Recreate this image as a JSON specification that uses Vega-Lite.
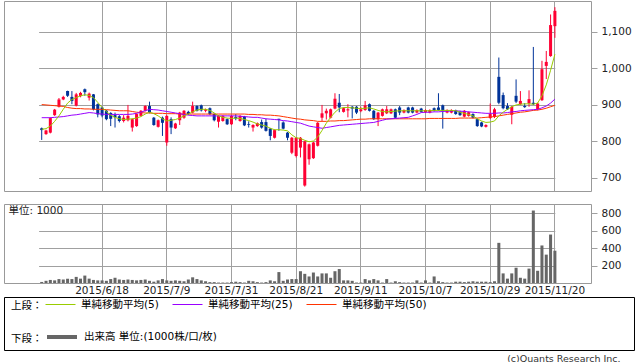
{
  "$schema": "https://vega.github.io/schema/vega-lite/v6.json",
  "padding": {"left": 3, "top": 0, "right": 0, "bottom": 0},
  "autosize": {"type": "pad"},
  "background": "white",
  "title": {"text": "(c)Quants Research Inc.", "orient": "bottom", "anchor": "end", "fontSize": 9.5, "font": "DejaVu Sans", "fontWeight": "normal", "color": "#333333", "offset": 3, "dx": -14},
  "config": {
    "view": {"stroke": "#999999"},
    "axis": {"gridColor": "#a0a0a0", "gridOpacity": 1, "labelFont": "DejaVu Sans", "labelFontSize": 10.5, "labelColor": "#222222", "tickColor": "#a0a0a0", "domain": false}
  },
  "datasets": {
    "days": [
      {"d":"2015/5/29","o":836,"h":838,"l":804,"c":831,"v":12,"m5":833,"m25":865,"m50":901},
      {"d":"2015/6/1","o":820,"h":832,"l":818,"c":830,"v":25,"m5":835,"m25":865,"m50":900},
      {"d":"2015/6/2","o":824,"h":866,"l":822,"c":864,"v":35,"m5":842,"m25":865,"m50":899},
      {"d":"2015/6/3","o":872,"h":889,"l":870,"c":887,"v":30,"m5":855,"m25":866,"m50":898},
      {"d":"2015/6/4","o":895,"h":919,"l":893,"c":915,"v":45,"m5":870,"m25":867,"m50":897},
      {"d":"2015/6/5","o":915,"h":925,"l":913,"c":922,"v":40,"m5":888,"m25":868,"m50":896},
      {"d":"2015/6/8","o":938,"h":939,"l":922,"c":925,"v":50,"m5":905,"m25":870,"m50":893},
      {"d":"2015/6/9","o":922,"h":938,"l":902,"c":911,"v":45,"m5":915,"m25":872,"m50":891},
      {"d":"2015/6/10","o":898,"h":933,"l":896,"c":929,"v":70,"m5":920,"m25":873,"m50":890},
      {"d":"2015/6/11","o":924,"h":936,"l":921,"c":933,"v":50,"m5":925,"m25":875,"m50":890},
      {"d":"2015/6/12","o":943,"h":945,"l":925,"c":935,"v":85,"m5":928,"m25":877,"m50":889},
      {"d":"2015/6/15","o":920,"h":934,"l":912,"c":931,"v":50,"m5":926,"m25":879,"m50":889},
      {"d":"2015/6/16","o":929,"h":930,"l":885,"c":888,"v":35,"m5":920,"m25":878,"m50":888},
      {"d":"2015/6/17","o":902,"h":904,"l":866,"c":874,"v":30,"m5":907,"m25":876,"m50":888},
      {"d":"2015/6/18","o":893,"h":895,"l":866,"c":871,"v":30,"m5":893,"m25":875,"m50":888},
      {"d":"2015/6/19","o":884,"h":886,"l":858,"c":861,"v":25,"m5":882,"m25":874,"m50":887},
      {"d":"2015/6/22","o":878,"h":880,"l":842,"c":862,"v":45,"m5":872,"m25":874,"m50":886},
      {"d":"2015/6/23","o":872,"h":879,"l":838,"c":866,"v":60,"m5":866,"m25":874,"m50":885},
      {"d":"2015/6/24","o":869,"h":872,"l":852,"c":856,"v":40,"m5":862,"m25":874,"m50":884},
      {"d":"2015/6/25","o":856,"h":872,"l":852,"c":865,"v":35,"m5":860,"m25":874,"m50":884},
      {"d":"2015/6/26","o":858,"h":900,"l":855,"c":870,"v":40,"m5":861,"m25":874,"m50":884},
      {"d":"2015/6/29","o":838,"h":863,"l":827,"c":861,"v":35,"m5":862,"m25":875,"m50":882},
      {"d":"2015/6/30","o":842,"h":877,"l":840,"c":875,"v":30,"m5":864,"m25":877,"m50":880},
      {"d":"2015/7/1","o":870,"h":886,"l":868,"c":884,"v":35,"m5":868,"m25":880,"m50":879},
      {"d":"2015/7/2","o":884,"h":899,"l":882,"c":897,"v":40,"m5":875,"m25":884,"m50":878},
      {"d":"2015/7/3","o":897,"h":909,"l":877,"c":879,"v":25,"m5":880,"m25":888,"m50":878},
      {"d":"2015/7/6","o":865,"h":867,"l":843,"c":845,"v":15,"m5":876,"m25":887,"m50":877},
      {"d":"2015/7/7","o":840,"h":860,"l":838,"c":858,"v":30,"m5":870,"m25":886,"m50":877},
      {"d":"2015/7/8","o":865,"h":868,"l":815,"c":851,"v":45,"m5":862,"m25":884,"m50":877},
      {"d":"2015/7/9","o":797,"h":872,"l":788,"c":870,"v":30,"m5":856,"m25":882,"m50":876},
      {"d":"2015/7/10","o":861,"h":866,"l":820,"c":838,"v":25,"m5":858,"m25":880,"m50":876},
      {"d":"2015/7/13","o":836,"h":851,"l":834,"c":849,"v":30,"m5":860,"m25":878,"m50":876},
      {"d":"2015/7/14","o":858,"h":881,"l":845,"c":879,"v":25,"m5":864,"m25":876,"m50":875},
      {"d":"2015/7/15","o":865,"h":886,"l":862,"c":884,"v":20,"m5":870,"m25":874,"m50":875},
      {"d":"2015/7/16","o":881,"h":884,"l":872,"c":875,"v":40,"m5":875,"m25":872,"m50":875},
      {"d":"2015/7/17","o":879,"h":909,"l":877,"c":897,"v":65,"m5":881,"m25":871,"m50":875},
      {"d":"2015/7/21","o":897,"h":899,"l":882,"c":884,"v":45,"m5":886,"m25":870,"m50":875},
      {"d":"2015/7/22","o":899,"h":901,"l":882,"c":885,"v":30,"m5":888,"m25":870,"m50":875},
      {"d":"2015/7/23","o":884,"h":890,"l":880,"c":888,"v":20,"m5":888,"m25":870,"m50":875},
      {"d":"2015/7/24","o":891,"h":893,"l":872,"c":875,"v":10,"m5":885,"m25":870,"m50":875},
      {"d":"2015/7/27","o":875,"h":877,"l":855,"c":858,"v":10,"m5":878,"m25":870,"m50":875},
      {"d":"2015/7/28","o":854,"h":872,"l":838,"c":870,"v":5,"m5":870,"m25":870,"m50":875},
      {"d":"2015/7/29","o":856,"h":872,"l":854,"c":870,"v":5,"m5":866,"m25":870,"m50":875},
      {"d":"2015/7/30","o":861,"h":863,"l":845,"c":847,"v":5,"m5":864,"m25":870,"m50":875},
      {"d":"2015/7/31","o":847,"h":872,"l":845,"c":870,"v":10,"m5":863,"m25":870,"m50":875},
      {"d":"2015/8/3","o":867,"h":875,"l":858,"c":863,"v":15,"m5":864,"m25":870,"m50":875},
      {"d":"2015/8/4","o":856,"h":872,"l":854,"c":870,"v":10,"m5":863,"m25":869,"m50":875},
      {"d":"2015/8/5","o":868,"h":870,"l":842,"c":844,"v":5,"m5":860,"m25":868,"m50":875},
      {"d":"2015/8/6","o":847,"h":855,"l":838,"c":845,"v":25,"m5":857,"m25":867,"m50":874},
      {"d":"2015/8/7","o":838,"h":847,"l":827,"c":845,"v":20,"m5":853,"m25":866,"m50":874},
      {"d":"2015/8/10","o":842,"h":852,"l":840,"c":850,"v":10,"m5":848,"m25":866,"m50":873},
      {"d":"2015/8/11","o":853,"h":860,"l":835,"c":838,"v":5,"m5":845,"m25":864,"m50":873},
      {"d":"2015/8/12","o":853,"h":862,"l":827,"c":829,"v":10,"m5":842,"m25":862,"m50":872},
      {"d":"2015/8/13","o":835,"h":837,"l":803,"c":815,"v":30,"m5":836,"m25":861,"m50":872},
      {"d":"2015/8/14","o":810,"h":833,"l":808,"c":831,"v":20,"m5":832,"m25":860,"m50":871},
      {"d":"2015/8/17","o":862,"h":862,"l":829,"c":859,"v":125,"m5":832,"m25":859,"m50":870},
      {"d":"2015/8/18","o":852,"h":855,"l":833,"c":835,"v":25,"m5":831,"m25":857,"m50":868},
      {"d":"2015/8/19","o":824,"h":826,"l":803,"c":810,"v":40,"m5":829,"m25":856,"m50":866},
      {"d":"2015/8/20","o":769,"h":812,"l":765,"c":810,"v":45,"m5":818,"m25":854,"m50":864},
      {"d":"2015/8/21","o":760,"h":812,"l":756,"c":810,"v":45,"m5":810,"m25":852,"m50":862},
      {"d":"2015/8/24","o":783,"h":812,"l":756,"c":810,"v":135,"m5":808,"m25":850,"m50":861},
      {"d":"2015/8/25","o":679,"h":802,"l":676,"c":800,"v":105,"m5":803,"m25":846,"m50":859},
      {"d":"2015/8/26","o":751,"h":794,"l":736,"c":792,"v":75,"m5":799,"m25":842,"m50":858},
      {"d":"2015/8/27","o":754,"h":799,"l":752,"c":797,"v":120,"m5":801,"m25":840,"m50":857},
      {"d":"2015/8/28","o":788,"h":853,"l":786,"c":851,"v":75,"m5":812,"m25":838,"m50":855},
      {"d":"2015/8/31","o":865,"h":900,"l":856,"c":877,"v":110,"m5":830,"m25":836,"m50":855},
      {"d":"2015/9/1","o":877,"h":890,"l":860,"c":884,"v":110,"m5":850,"m25":838,"m50":855},
      {"d":"2015/9/2","o":865,"h":890,"l":863,"c":888,"v":60,"m5":866,"m25":840,"m50":856},
      {"d":"2015/9/3","o":890,"h":932,"l":888,"c":917,"v":135,"m5":880,"m25":842,"m50":856},
      {"d":"2015/9/4","o":906,"h":930,"l":880,"c":893,"v":160,"m5":890,"m25":844,"m50":857},
      {"d":"2015/9/7","o":881,"h":893,"l":879,"c":891,"v":30,"m5":893,"m25":845,"m50":857},
      {"d":"2015/9/8","o":885,"h":902,"l":866,"c":888,"v":30,"m5":893,"m25":846,"m50":858},
      {"d":"2015/9/9","o":895,"h":897,"l":863,"c":890,"v":25,"m5":892,"m25":847,"m50":859},
      {"d":"2015/9/10","o":895,"h":897,"l":875,"c":879,"v":5,"m5":891,"m25":848,"m50":860},
      {"d":"2015/9/11","o":883,"h":895,"l":880,"c":888,"v":5,"m5":890,"m25":849,"m50":861},
      {"d":"2015/9/14","o":886,"h":911,"l":884,"c":899,"v":45,"m5":891,"m25":850,"m50":861},
      {"d":"2015/9/15","o":902,"h":904,"l":882,"c":884,"v":30,"m5":892,"m25":851,"m50":862},
      {"d":"2015/9/16","o":884,"h":886,"l":859,"c":861,"v":45,"m5":889,"m25":852,"m50":862},
      {"d":"2015/9/17","o":861,"h":881,"l":842,"c":879,"v":30,"m5":885,"m25":855,"m50":862},
      {"d":"2015/9/18","o":870,"h":890,"l":868,"c":888,"v":5,"m5":882,"m25":858,"m50":862},
      {"d":"2015/9/24","o":877,"h":897,"l":875,"c":888,"v":45,"m5":881,"m25":861,"m50":862},
      {"d":"2015/9/25","o":877,"h":890,"l":875,"c":888,"v":5,"m5":882,"m25":862,"m50":862},
      {"d":"2015/9/28","o":888,"h":890,"l":863,"c":865,"v":20,"m5":883,"m25":863,"m50":862},
      {"d":"2015/9/29","o":893,"h":897,"l":872,"c":879,"v":10,"m5":884,"m25":864,"m50":862},
      {"d":"2015/9/30","o":879,"h":888,"l":877,"c":886,"v":5,"m5":884,"m25":865,"m50":862},
      {"d":"2015/10/1","o":893,"h":895,"l":877,"c":879,"v":5,"m5":884,"m25":866,"m50":862},
      {"d":"2015/10/2","o":893,"h":895,"l":877,"c":879,"v":5,"m5":884,"m25":870,"m50":862},
      {"d":"2015/10/5","o":879,"h":888,"l":877,"c":886,"v":30,"m5":884,"m25":874,"m50":862},
      {"d":"2015/10/6","o":890,"h":892,"l":879,"c":881,"v":5,"m5":884,"m25":879,"m50":862},
      {"d":"2015/10/7","o":880,"h":888,"l":878,"c":886,"v":30,"m5":884,"m25":880,"m50":862},
      {"d":"2015/10/8","o":879,"h":888,"l":877,"c":886,"v":5,"m5":884,"m25":880,"m50":863},
      {"d":"2015/10/9","o":891,"h":893,"l":882,"c":884,"v":75,"m5":885,"m25":881,"m50":863},
      {"d":"2015/10/13","o":893,"h":932,"l":884,"c":886,"v":20,"m5":885,"m25":881,"m50":863},
      {"d":"2015/10/14","o":899,"h":901,"l":835,"c":884,"v":10,"m5":885,"m25":882,"m50":863},
      {"d":"2015/10/15","o":879,"h":888,"l":877,"c":886,"v":5,"m5":885,"m25":883,"m50":863},
      {"d":"2015/10/16","o":879,"h":888,"l":877,"c":886,"v":5,"m5":885,"m25":883,"m50":863},
      {"d":"2015/10/19","o":885,"h":887,"l":873,"c":875,"v":15,"m5":884,"m25":884,"m50":863},
      {"d":"2015/10/20","o":882,"h":884,"l":870,"c":872,"v":15,"m5":880,"m25":883,"m50":864},
      {"d":"2015/10/21","o":868,"h":886,"l":866,"c":884,"v":10,"m5":877,"m25":882,"m50":864},
      {"d":"2015/10/22","o":870,"h":882,"l":868,"c":880,"v":15,"m5":874,"m25":881,"m50":864},
      {"d":"2015/10/23","o":875,"h":877,"l":863,"c":865,"v":20,"m5":870,"m25":880,"m50":864},
      {"d":"2015/10/26","o":861,"h":863,"l":840,"c":842,"v":15,"m5":862,"m25":879,"m50":864},
      {"d":"2015/10/27","o":852,"h":854,"l":839,"c":841,"v":15,"m5":856,"m25":878,"m50":865},
      {"d":"2015/10/28","o":840,"h":847,"l":838,"c":845,"v":15,"m5":852,"m25":877,"m50":866},
      {"d":"2015/10/29","o":864,"h":904,"l":862,"c":875,"v":10,"m5":853,"m25":877,"m50":867},
      {"d":"2015/10/30","o":867,"h":892,"l":864,"c":888,"v":20,"m5":856,"m25":877,"m50":868},
      {"d":"2015/11/2","o":977,"h":1030,"l":902,"c":906,"v":460,"m5":870,"m25":878,"m50":870},
      {"d":"2015/11/4","o":927,"h":934,"l":888,"c":891,"v":110,"m5":880,"m25":878,"m50":872},
      {"d":"2015/11/5","o":897,"h":905,"l":886,"c":888,"v":50,"m5":888,"m25":879,"m50":874},
      {"d":"2015/11/6","o":873,"h":897,"l":847,"c":895,"v":110,"m5":895,"m25":881,"m50":876},
      {"d":"2015/11/9","o":925,"h":970,"l":905,"c":909,"v":175,"m5":900,"m25":882,"m50":878},
      {"d":"2015/11/10","o":902,"h":938,"l":900,"c":911,"v":60,"m5":902,"m25":884,"m50":880},
      {"d":"2015/11/11","o":897,"h":905,"l":892,"c":894,"v":50,"m5":903,"m25":885,"m50":881},
      {"d":"2015/11/12","o":904,"h":940,"l":895,"c":916,"v":165,"m5":903,"m25":886,"m50":883},
      {"d":"2015/11/13","o":906,"h":1059,"l":900,"c":902,"v":830,"m5":902,"m25":887,"m50":885},
      {"d":"2015/11/16","o":888,"h":906,"l":885,"c":904,"v":140,"m5":905,"m25":888,"m50":886},
      {"d":"2015/11/17","o":913,"h":1021,"l":911,"c":998,"v":430,"m5":925,"m25":892,"m50":888},
      {"d":"2015/11/18","o":1007,"h":1048,"l":971,"c":1018,"v":325,"m5":955,"m25":897,"m50":891},
      {"d":"2015/11/19","o":1034,"h":1148,"l":1032,"c":1119,"v":555,"m5":995,"m25":905,"m50":895},
      {"d":"2015/11/20","o":1116,"h":1168,"l":1084,"c":1158,"v":370,"m5":1039,"m25":916,"m50":899}
    ]
  },
  "spacing": 0,
  "vconcat": [
    {
      "spacing": 11,
      "vconcat": [
        {
          "width": 587,
          "height": 190,
          "data": {"name": "days"},
          "encoding": {
            "x": {"field": "d", "type": "ordinal", "sort": null, "title": null,
              "scale": {"paddingInner": 0.3, "paddingOuter": 0, "range": [36.2, 552.4]},
              "axis": {"values": ["2015/6/18","2015/7/9","2015/7/31","2015/8/21","2015/9/11","2015/10/7","2015/10/29","2015/11/20"], "bandPosition": 0.5, "labels": false, "ticks": false, "domain": false, "grid": true, "minExtent": 0, "title": null}}
          },
          "layer": [
            {"mark": {"type": "rule", "strokeWidth": 1},
             "encoding": {
               "y": {"field": "l", "type": "quantitative", "title": null, "scale": {"domain": [664, 1185], "zero": false, "nice": false},
                 "axis": {"orient": "right", "values": [700, 800, 900, 1000, 1100], "format": ",.0f", "tickSize": 6, "labelPadding": 4, "grid": true, "domain": false, "title": null}},
               "y2": {"field": "h"},
               "color": {"condition": {"test": "datum.c >= datum.o", "value": "#ff0033"}, "value": "#003399"}
             }},
            {"mark": {"type": "bar"},
             "encoding": {
               "y": {"field": "o", "type": "quantitative", "title": null, "scale": {"domain": [664, 1185], "zero": false, "nice": false}},
               "y2": {"field": "c"},
               "color": {"condition": {"test": "datum.c >= datum.o", "value": "#ff0033"}, "value": "#003399"}
             }},
            {"mark": {"type": "line", "color": "#ff3300", "strokeWidth": 1},
             "encoding": {"y": {"field": "m50", "type": "quantitative", "title": null, "scale": {"domain": [664, 1185], "zero": false, "nice": false}}}},
            {"mark": {"type": "line", "color": "#9900ff", "strokeWidth": 1},
             "encoding": {"y": {"field": "m25", "type": "quantitative", "title": null, "scale": {"domain": [664, 1185], "zero": false, "nice": false}}}},
            {"mark": {"type": "line", "color": "#99cc00", "strokeWidth": 1},
             "encoding": {"y": {"field": "m5", "type": "quantitative", "title": null, "scale": {"domain": [664, 1185], "zero": false, "nice": false}}}}
          ]
        },
        {
          "width": 587,
          "height": 79,
          "data": {"name": "days"},
          "mark": {"type": "bar", "color": "#666666"},
          "encoding": {
            "x": {"field": "d", "type": "ordinal", "sort": null, "title": null,
              "scale": {"paddingInner": 0.3, "paddingOuter": 0, "range": [36.2, 552.4]},
              "axis": {"values": ["2015/6/18","2015/7/9","2015/7/31","2015/8/21","2015/9/11","2015/10/7","2015/10/29","2015/11/20"], "bandPosition": 0.5, "labels": true, "labelAngle": 0, "labelOverlap": false, "labelPadding": 2, "ticks": false, "domain": false, "grid": true, "title": null}},
            "y": {"field": "v", "type": "quantitative", "scale": {"domain": [0, 905], "nice": false},
              "axis": {"orient": "right", "values": [200, 400, 600, 800], "tickSize": 6, "labelPadding": 4, "grid": true, "domain": false,
                "title": "単位: 1000", "titleAngle": 0, "titleX": -583, "titleY": 6, "titleAlign": "left", "titleBaseline": "middle", "titleFont": "DejaVu Sans, Noto Sans CJK JP", "titleFontSize": 10.5, "titleFontWeight": "normal", "titleColor": "#222222"}}
          }
        }
      ]
    },
    {
      "width": 630,
      "height": 53,
      "view": {"stroke": "#000000", "strokeWidth": 1},
      "data": {"values": []},
      "layer": [
        {"mark": {"type": "line"},
         "encoding": {
           "stroke": {"field": "s", "type": "nominal",
             "scale": {"domain": ["単純移動平均(5)", "単純移動平均(25)", "単純移動平均(50)"], "range": ["#99cc00", "#9900ff", "#ff3300"]},
             "legend": {"orient": "none", "legendX": 7, "legendY": 288, "title": "上段：", "titleOrient": "left", "titleAnchor": "middle", "titleBaseline": "middle", "direction": "horizontal", "columns": 3, "symbolType": "stroke", "symbolSize": 900, "symbolStrokeWidth": 1, "labelFont": "DejaVu Sans, Noto Sans CJK JP", "labelFontSize": 10.5, "labelColor": "#000000", "labelOffset": 5, "labelLimit": 300, "columnPadding": 11, "titleFont": "Noto Sans CJK JP", "titleFontSize": 10.5, "titleFontWeight": "normal", "titleColor": "#000000", "titlePadding": 2, "padding": 0,
               "encode": {"title": {"update": {"dy": {"value": 6}}}}}}
         }},
        {"mark": {"type": "line"},
         "encoding": {
           "color": {"field": "u", "type": "nominal",
             "scale": {"domain": ["出来高 単位:(1000株/口/枚)"], "range": ["#666666"]},
             "legend": {"orient": "none", "legendX": 7, "legendY": 319, "title": "下段：", "titleOrient": "left", "titleAnchor": "middle", "titleBaseline": "middle", "direction": "horizontal", "symbolType": "stroke", "symbolSize": 900, "symbolStrokeWidth": 4, "labelFont": "DejaVu Sans, Noto Sans CJK JP", "labelFontSize": 10.5, "labelColor": "#000000", "labelOffset": 5, "labelLimit": 300, "titleFont": "Noto Sans CJK JP", "titleFontSize": 10.5, "titleFontWeight": "normal", "titleColor": "#000000", "titlePadding": 2, "padding": 0,
               "encode": {"title": {"update": {"dy": {"value": 6}}}}}}
         }}
      ]
    }
  ]
}
